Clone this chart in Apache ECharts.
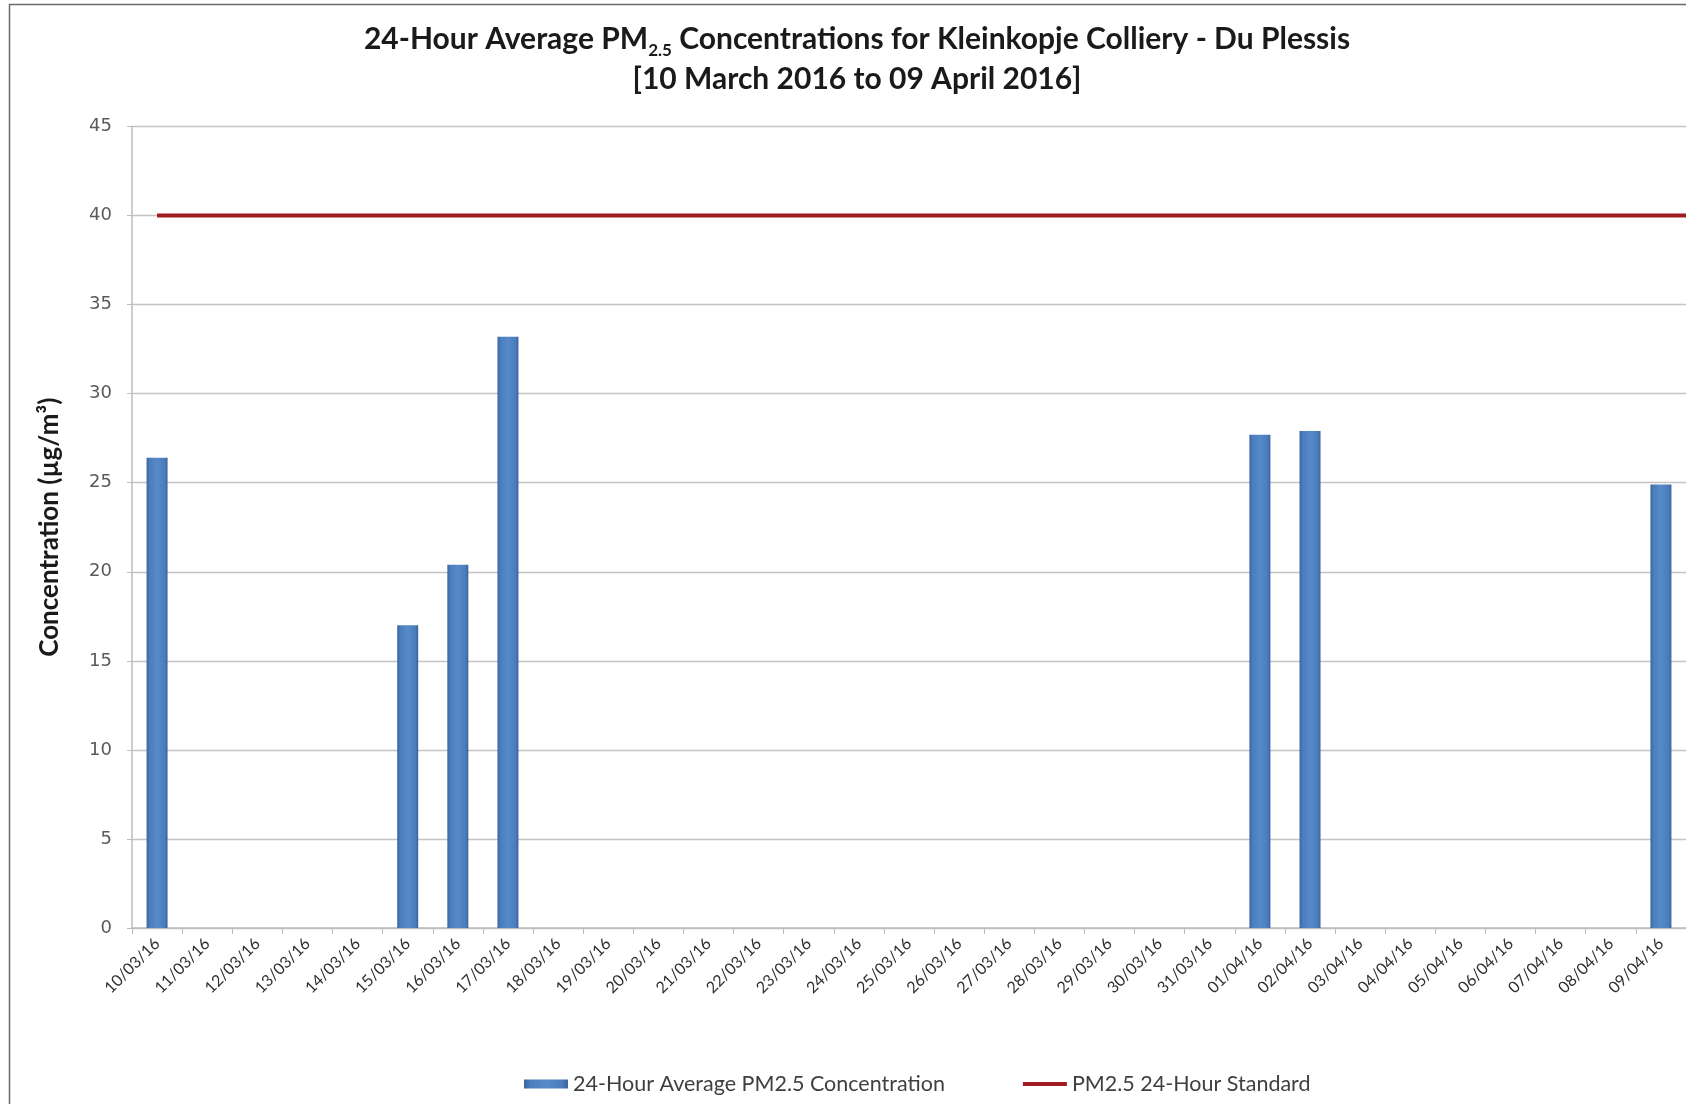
<!DOCTYPE html>
<html>
<head>
<meta charset="utf-8">
<script src="https://cdn.jsdelivr.net/npm/echarts@6/dist/echarts.min.js"></script>
<style>
  html, body { margin: 0; padding: 0; background: #ffffff; overflow: hidden; }
  #chart { width: 1686px; height: 1104px; }
</style>
</head>
<body>
<div id="chart"></div>
<script>
// Daily dates (dd/mm/yy) for the monitoring period
const days = [
  '10/03/16', '11/03/16', '12/03/16', '13/03/16', '14/03/16', '15/03/16', '16/03/16',
  '17/03/16', '18/03/16', '19/03/16', '20/03/16', '21/03/16', '22/03/16', '23/03/16',
  '24/03/16', '25/03/16', '26/03/16', '27/03/16', '28/03/16', '29/03/16', '30/03/16',
  '31/03/16', '01/04/16', '02/04/16', '03/04/16', '04/04/16', '05/04/16', '06/04/16',
  '07/04/16', '08/04/16', '09/04/16'
];

// 24-hour average PM2.5 (µg/m³); null = no valid sample that day
const pm25Daily = [
  26.4, null, null, null, null, 17.0, 20.4,
  33.2, null, null, null, null, null, null,
  null, null, null, null, null, null, null,
  null, 27.7, 27.9, null, null, null, null,
  null, null, 24.9
];

// National 24-hour PM2.5 standard (µg/m³)
const pm25Standard = 40;

// Y axis ticks
const yMin = 0;
const yMax = 45;
const yStep = 5;

const barName = '24-Hour Average PM2.5 Concentration';
const lineName = 'PM2.5 24-Hour Standard';

const chart = echarts.init(document.getElementById('chart'), null, { renderer: 'canvas' });

const barFill = new echarts.graphic.LinearGradient(0, 0, 1, 0, [
  { offset: 0, color: '#3a659d' },
  { offset: 0.15, color: '#4c7dbd' },
  { offset: 0.5, color: '#568ac9' },
  { offset: 0.85, color: '#4c7dbd' },
  { offset: 1, color: '#3a659d' }
]);

const standardColor = '#a01c22';

const option = {
  backgroundColor: '#ffffff',
  animation: false,
  graphic: [
    {
      // outer chart frame
      type: 'rect',
      shape: { x: 9.5, y: 4.5, width: 1800, height: 1200 },
      style: { fill: 'none', stroke: '#6a6a6a', lineWidth: 1.5 },
      silent: true
    }
  ],
  title: {
    left: 852,
    top: 14,
    textAlign: 'center',
    text: '{t|24-Hour Average PM}{s|2.5}{t| Concentrations for Kleinkopje Colliery - Du Plessis}\n{t|[10 March 2016 to 09 April 2016]}',
    textStyle: {
      rich: {
        t: {
          fontFamily: 'Lato',
          fontWeight: 'bold',
          fontSize: 30,
          color: '#1a1a1a',
          lineHeight: 40
        },
        s: {
          fontFamily: 'Lato',
          fontWeight: 'bold',
          fontSize: 17,
          color: '#1a1a1a',
          lineHeight: 22,
          verticalAlign: 'bottom'
        }
      }
    }
  },
  legend: {
    left: 524,
    top: 1073,
    padding: 0,
    itemWidth: 44,
    itemHeight: 9,
    itemGap: 78,
    textStyle: { fontFamily: 'Lato', fontSize: 21.5, color: '#404040' },
    data: [
      { name: barName, icon: 'rect' },
      { name: lineName, icon: 'path://M0 0H44V4H0Z', itemStyle: { color: standardColor } }
    ]
  },
  grid: {
    left: 132,
    top: 126.5,
    width: 1555,
    height: 801.5,
    containLabel: false
  },
  xAxis: [
    {
      type: 'category',
      data: days,
      boundaryGap: true,
      axisLine: { show: true, lineStyle: { color: '#bcbcbc', width: 1.5 } },
      axisTick: { show: true, interval: 0, alignWithLabel: false, length: 6, lineStyle: { color: '#bcbcbc' } },
      axisLabel: {
        interval: 0,
        rotate: 45,
        margin: 13,
        fontFamily: 'Lato',
        fontSize: 16,
        color: '#2e2e2e'
      },
      splitLine: { show: false }
    },
    {
      // hidden companion axis spanning the same bands, used by the standard line
      type: 'value',
      show: false,
      min: -0.5,
      max: days.length - 0.5,
      position: 'bottom'
    }
  ],
  yAxis: {
    type: 'value',
    min: yMin,
    max: yMax,
    interval: yStep,
    name: 'Concentration (µg/m³)',
    nameLocation: 'middle',
    nameGap: 69,
    nameRotate: 90,
    nameTextStyle: { fontFamily: 'Lato', fontWeight: 'bold', fontSize: 26, color: '#1a1a1a' },
    axisLine: { show: true, onZero: false, lineStyle: { color: '#bcbcbc', width: 1.5 } },
    axisTick: { show: true, length: 5, lineStyle: { color: '#bcbcbc' } },
    axisLabel: { margin: 20, fontFamily: 'DejaVu Sans', fontSize: 18, color: '#5a5a5a' },
    splitLine: { show: true, lineStyle: { color: '#c4c4c4', width: 1.3 } }
  },
  series: [
    {
      name: barName,
      type: 'bar',
      xAxisIndex: 0,
      data: pm25Daily,
      barWidth: 21,
      itemStyle: { color: barFill }
    },
    {
      name: lineName,
      type: 'line',
      xAxisIndex: 1,
      data: [[0, pm25Standard], [days.length - 0.5, pm25Standard]],
      symbol: 'none',
      showSymbol: false,
      lineStyle: { color: standardColor, width: 4 },
      itemStyle: { color: standardColor },
      z: 3
    }
  ]
};

chart.setOption(option);
</script>
</body>
</html>
